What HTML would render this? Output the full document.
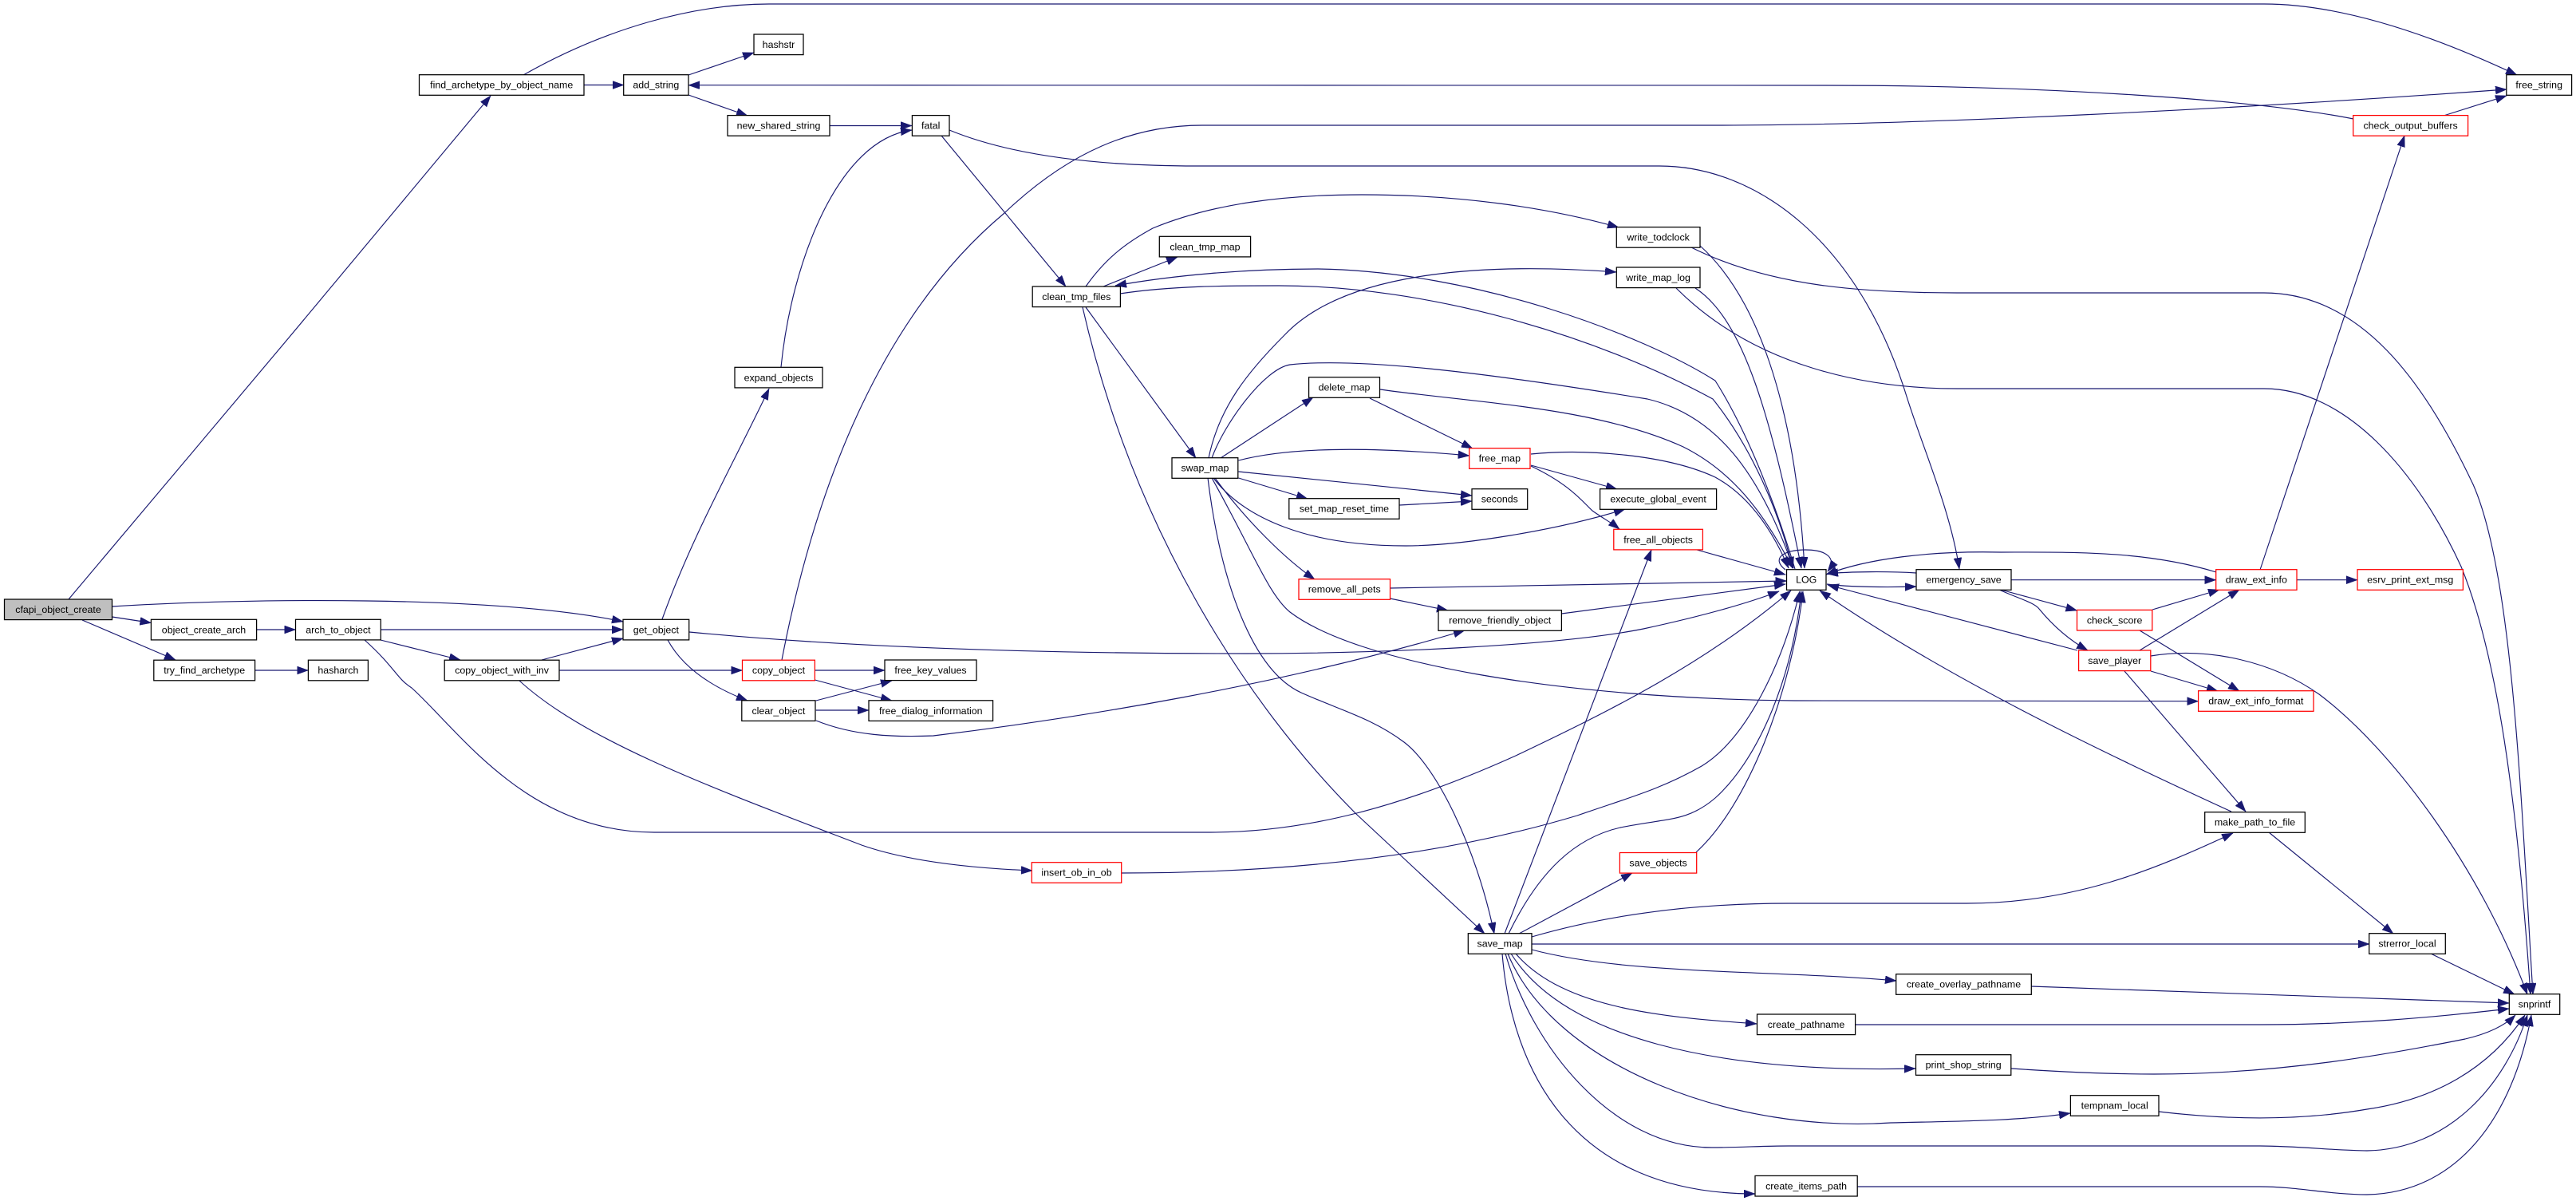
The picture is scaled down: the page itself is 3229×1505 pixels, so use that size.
<!DOCTYPE html>
<html><head><meta charset="utf-8"><style>
html,body{margin:0;padding:0;background:#fff}
svg{display:block}
.e path{fill:none;stroke:#191970;stroke-width:1.15;marker-end:url(#a)}
.n rect{fill:#fff;stroke:#000;stroke-width:1.25}
.n rect.r{stroke:#f00}
.n rect.g{fill:#bfbfbf}
.n text{font-family:"Liberation Sans",sans-serif;font-size:12.4px;text-anchor:middle;fill:#000}
</style></head><body>
<svg xmlns="http://www.w3.org/2000/svg" width="3229" height="1505" viewBox="0 0 3229 1505">
<defs><marker id="a" markerUnits="userSpaceOnUse" markerWidth="16" markerHeight="12" refX="14" refY="5" orient="auto"><path d="M0,0L14,5L0,10Z" fill="#191970" stroke="#191970" stroke-width="0.5" style="marker-end:none"/></marker></defs>
<g class="e">
<path d="M86,751C180,640 500,260 615,120"/>
<path d="M656,94C760,35 870,5 964,5L2838,5C2930,5 3040,40 3155,94"/>
<path d="M732,106.5L782,106.5"/>
<path d="M863,94L945,66"/>
<path d="M863,119L937,145"/>
<path d="M1040,157.5L1143,157.5"/>
<path d="M979,460C992,330 1050,175 1143,163"/>
<path d="M830,776C868,670 920,580 964,487"/>
<path d="M140.5,760C300,750 620,745 781,779"/>
<path d="M140.5,773L189.4,780.5"/>
<path d="M103,777L220,827"/>
<path d="M321.6,789L370.5,789"/>
<path d="M477,789L781,789"/>
<path d="M477,802L577,827"/>
<path d="M679,827L781,800"/>
<path d="M319.6,840L386.4,840"/>
<path d="M701,840L930.5,840"/>
<path d="M457,802C495,836 497,850 516,862C575,915 660,1043 820,1043L1516,1043C1640,1043 1760,1010 1900,947C2020,890 2140,830 2245,740"/>
<path d="M651,853C735,930 900,990 1080,1059C1140,1080 1220,1088 1294,1091"/>
<path d="M864,792C1050,810 1280,819 1562,819C1720,819 1950,810 2060,788C2120,775 2180,760 2230,741"/>
<path d="M837,802C855,835 890,860 937,878"/>
<path d="M980,827C1020,620 1100,400 1259,267C1340,190 1420,157 1507,157L2150,157C2400,157 2800,137 3142,112"/>
<path d="M1021,840L1109,840"/>
<path d="M1021.4,852L1118,878"/>
<path d="M1022.8,878L1118,853"/>
<path d="M1022.8,890L1089,890"/>
<path d="M1023,903C1070,922 1120,924 1170,922C1350,900 1600,860 1836,790"/>
<path d="M1180,170L1336,359"/>
<path d="M1190,163C1280,200 1400,208 1500,208L2080,208C2200,208 2330,300 2391,500C2410,560 2445,640 2456,713"/>
<path d="M1383,359L1476,322"/>
<path d="M1361,359C1385,325 1410,305 1445,286C1520,255 1610,244 1707,244C1830,244 1940,260 2029,285"/>
<path d="M1361,385L1499,574"/>
<path d="M1357,385C1420,660 1560,880 1700,1020L1861,1170"/>
<path d="M1404,368C1470,358 1540,358 1603,358C1790,358 2000,420 2147,500C2195,560 2230,640 2247,712"/>
<path d="M2250,713C2225,630 2190,540 2150,477C2060,420 1850,340 1652,337C1560,337 1470,345 1398,358"/>
<path d="M1515,574C1528,510 1565,465 1610,420C1690,335 1880,330 2026,341"/>
<path d="M1519,574C1535,530 1585,462 1617,457C1700,448 1850,465 2065,500C2150,520 2205,590 2248,712"/>
<path d="M1530,574L1646,498"/>
<path d="M1717,499L1846,562"/>
<path d="M1730,488C1850,505 2000,510 2110,560C2170,590 2210,640 2247,712"/>
<path d="M1919,569C1990,562 2090,570 2150,598C2190,620 2220,660 2242,712"/>
<path d="M2131,308C2200,370 2250,500 2262,712"/>
<path d="M2120,310C2220,360 2340,367 2453,367L2838,367C2960,367 3040,480 3100,607C3150,720 3160,1000 3175,1246"/>
<path d="M2101,361C2200,460 2340,487 2453,487L2838,487C2940,487 3030,590 3085,710C3130,820 3155,1000 3172,1246"/>
<path d="M2125,361C2185,400 2220,520 2258,712"/>
<path d="M1919,583L2027,613"/>
<path d="M1919,584C1968,607 1985,630 1996,640C2010,650 2020,655 2030,663"/>
<path d="M1552.5,577C1610,562 1700,558 1841.7,571"/>
<path d="M1552.5,591L1845,621"/>
<path d="M1552.5,599L1639,625"/>
<path d="M1754,633L1845,628"/>
<path d="M1521,599C1560,650 1640,684 1762,684C1830,684 1950,665 2037,638"/>
<path d="M1523,599C1560,650 1610,700 1648,726"/>
<path d="M1742.5,737L2239.5,728"/>
<path d="M1742.5,750L1815,765"/>
<path d="M1957.4,769L2238,732"/>
<path d="M1519,599C1570,690 1590,745 1617,767C1700,830 1950,875 2250,878L2755.6,878.7"/>
<path d="M1514,599C1530,730 1570,840 1631,868C1680,890 1720,900 1760,930C1800,960 1850,1060 1873,1170"/>
<path d="M1886,1170L2070,689"/>
<path d="M1891,1170C1930,1090 1975,1050 2031,1037C2090,1025 2115,1030 2150,1000C2200,955 2245,860 2258,741"/>
<path d="M1406,1094C1600,1094 1800,1075 1977,1022C2040,1000 2080,990 2133,960C2190,925 2235,830 2256,741"/>
<path d="M2126,1068C2190,1010 2245,870 2260,741"/>
<path d="M1904,1170L2046,1094"/>
<path d="M1920,1174C2020,1145 2130,1132 2242,1132L2465,1132C2600,1132 2700,1090 2799,1044"/>
<path d="M1920,1183L2970,1183"/>
<path d="M1920,1190C2040,1222 2220,1215 2377,1229"/>
<path d="M1900,1195C1960,1265 2090,1275 2202,1283"/>
<path d="M1894,1195C1960,1300 2150,1345 2401,1339"/>
<path d="M1890,1195C1950,1340 2180,1420 2370,1407C2450,1405 2530,1405 2595,1395"/>
<path d="M1887,1195C1920,1310 2020,1438 2146,1438C2180,1438 2210,1436 2242,1436L2833,1436C2880,1436 2930,1442 2967,1442C3070,1440 3140,1360 3168,1272"/>
<path d="M1883,1195C1895,1340 1970,1496 2200,1496"/>
<path d="M2328,1487L2833,1487C2880,1487 2920,1497 2967,1497C3080,1495 3150,1400 3173,1272"/>
<path d="M2706,1393C2790,1403 2880,1405 2967,1390C3050,1378 3120,1340 3165,1272"/>
<path d="M2521,1339C2580,1343 2640,1346 2700,1346C2860,1346 3000,1320 3090,1302C3120,1295 3140,1285 3153,1272"/>
<path d="M2326,1284L2833,1284C2950,1284 3050,1275 3145,1264"/>
<path d="M2546,1236L3145,1257"/>
<path d="M3047,1195L3152,1246"/>
<path d="M2844,1043L3000,1170"/>
<path d="M2797,1017C2640,945 2440,850 2281,740"/>
<path d="M2604,815L2291,733"/>
<path d="M2663,841L2815,1017"/>
<path d="M2696,822C2770,810 2850,830 2907,870C3000,940 3110,1090 3168,1246"/>
<path d="M2696,841L2780,866"/>
<path d="M2682,815L2807,739"/>
<path d="M2698,764L2782,739"/>
<path d="M2682,790L2807,866"/>
<path d="M2521,726.7L2777.7,726.7"/>
<path d="M2879,726.7L2955,726.7"/>
<path d="M2508,739L2603.5,765"/>
<path d="M2506,739C2530,750 2550,755 2556,763C2570,780 2590,800 2617,815"/>
<path d="M2402,718C2370,716 2320,716 2290,719"/>
<path d="M2290,732C2320,736 2370,736 2402,735"/>
<path d="M2778,717C2690,690 2600,692 2508,692C2420,690 2340,700 2289,720"/>
<path d="M2833,714L3014,170"/>
<path d="M3063,145L3142,120"/>
<path d="M2950,149C2830,125 2560,107 2288,107L863,106.7"/>
<path d="M2127,689L2238,720"/>
<path d="M2238,714C2220,700 2235,689 2263,689C2290,689 2303,700 2291,716"/>
</g>
<g class="n">
<rect class="g" x="5.5" y="751" width="135" height="25.6"/><text x="73" y="768">cfapi_object_create</text>
<rect x="525.5" y="93.7" width="206.5" height="25.6"/><text x="628.7" y="110.7">find_archetype_by_object_name</text>
<rect x="781.7" y="93.7" width="81.3" height="25.6"/><text x="822.3" y="110.7">add_string</text>
<rect x="945" y="43" width="62" height="25.6"/><text x="976" y="60">hashstr</text>
<rect x="912" y="144.6" width="128" height="25.6"/><text x="976" y="161.6">new_shared_string</text>
<rect x="921" y="460.3" width="110" height="25.6"/><text x="976" y="477.3">expand_objects</text>
<rect x="189.4" y="776.3" width="132.2" height="25.6"/><text x="255.5" y="793.3">object_create_arch</text>
<rect x="370.5" y="776.3" width="106.8" height="25.6"/><text x="423.9" y="793.3">arch_to_object</text>
<rect x="781" y="776.3" width="82.7" height="25.6"/><text x="822.3" y="793.3">get_object</text>
<rect x="192.8" y="827.2" width="126.8" height="25.6"/><text x="256.2" y="844.2">try_find_archetype</text>
<rect x="386.4" y="827.2" width="75" height="25.6"/><text x="423.9" y="844.2">hasharch</text>
<rect x="557.2" y="827.2" width="143.8" height="25.6"/><text x="629.1" y="844.2">copy_object_with_inv</text>
<rect class="r" x="930.5" y="827.2" width="90.9" height="25.6"/><text x="976" y="844.2">copy_object</text>
<rect x="929.8" y="877.8" width="92.2" height="25.6"/><text x="975.9" y="894.8">clear_object</text>
<rect x="1143.4" y="144.6" width="46.6" height="25.6"/><text x="1166.7" y="161.6">fatal</text>
<rect x="1294.2" y="359" width="110.2" height="25.6"/><text x="1349.3" y="376">clean_tmp_files</text>
<rect x="1453.3" y="296.3" width="114.3" height="25.6"/><text x="1510.4" y="313.3">clean_tmp_map</text>
<rect x="2026.3" y="284.6" width="104.7" height="25.6"/><text x="2078.6" y="301.6">write_todclock</text>
<rect x="2026.3" y="335" width="104.7" height="25.6"/><text x="2078.6" y="352">write_map_log</text>
<rect x="1640.6" y="472.7" width="88.9" height="25.6"/><text x="1685" y="489.7">delete_map</text>
<rect x="1469" y="573.7" width="82.8" height="25.6"/><text x="1510.4" y="590.7">swap_map</text>
<rect class="r" x="1841.7" y="561.7" width="76.3" height="25.6"/><text x="1879.8" y="578.7">free_map</text>
<rect x="1845" y="612.7" width="69.7" height="25.6"/><text x="1879.8" y="629.7">seconds</text>
<rect x="1615.8" y="624.7" width="138.2" height="25.6"/><text x="1684.9" y="641.7">set_map_reset_time</text>
<rect x="2005.6" y="612.7" width="146" height="25.6"/><text x="2078.6" y="629.7">execute_global_event</text>
<rect class="r" x="2022.8" y="663.3" width="111.6" height="25.6"/><text x="2078.6" y="680.3">free_all_objects</text>
<rect class="r" x="1628" y="725.7" width="114.5" height="25.6"/><text x="1685.2" y="742.7">remove_all_pets</text>
<rect x="1803" y="764.7" width="154.4" height="25.6"/><text x="1880.2" y="781.7">remove_friendly_object</text>
<rect x="1109" y="827" width="115" height="25.6"/><text x="1166.5" y="844">free_key_values</text>
<rect x="1089" y="877.8" width="155.6" height="25.6"/><text x="1166.8" y="894.8">free_dialog_information</text>
<rect x="3141.8" y="93.7" width="81.8" height="25.6"/><text x="3182.7" y="110.7">free_string</text>
<rect class="r" x="2949.7" y="144.6" width="143.9" height="25.6"/><text x="3021.6" y="161.6">check_output_buffers</text>
<rect x="2239.5" y="713.7" width="49.5" height="25.6"/><text x="2264.2" y="730.7">LOG</text>
<rect x="2402" y="713.7" width="119" height="25.6"/><text x="2461.5" y="730.7">emergency_save</text>
<rect class="r" x="2777.7" y="713.7" width="101.3" height="25.6"/><text x="2828.3" y="730.7">draw_ext_info</text>
<rect class="r" x="2955" y="713.7" width="132.4" height="25.6"/><text x="3021.2" y="730.7">esrv_print_ext_msg</text>
<rect class="r" x="2603.5" y="764.4" width="94.3" height="25.6"/><text x="2650.6" y="781.4">check_score</text>
<rect class="r" x="2605.6" y="815" width="90.2" height="25.6"/><text x="2650.7" y="832">save_player</text>
<rect class="r" x="2755.6" y="865.7" width="144.4" height="25.6"/><text x="2827.8" y="882.7">draw_ext_info_format</text>
<rect class="r" x="1293.3" y="1080.7" width="112.4" height="25.6"/><text x="1349.5" y="1097.7">insert_ob_in_ob</text>
<rect class="r" x="2030.4" y="1068.5" width="96.3" height="25.6"/><text x="2078.6" y="1085.5">save_objects</text>
<rect x="1840.3" y="1169.7" width="79.7" height="25.6"/><text x="1880.1" y="1186.7">save_map</text>
<rect x="2376.7" y="1220.7" width="169.6" height="25.6"/><text x="2461.5" y="1237.7">create_overlay_pathname</text>
<rect x="2202.5" y="1271" width="123.1" height="25.6"/><text x="2264" y="1288">create_pathname</text>
<rect x="2401.5" y="1321.7" width="119.3" height="25.6"/><text x="2461.1" y="1338.7">print_shop_string</text>
<rect x="2595.4" y="1372.7" width="110.6" height="25.6"/><text x="2650.7" y="1389.7">tempnam_local</text>
<rect x="2200" y="1473.4" width="128.2" height="25.6"/><text x="2264.1" y="1490.4">create_items_path</text>
<rect x="2763.7" y="1017.7" width="125.6" height="25.6"/><text x="2826.5" y="1034.7">make_path_to_file</text>
<rect x="2969.7" y="1169.7" width="95.6" height="25.6"/><text x="3017.5" y="1186.7">strerror_local</text>
<rect x="3145.3" y="1245.7" width="63.4" height="25.6"/><text x="3177" y="1262.7">snprintf</text>
</g>
</svg>
</body></html>
